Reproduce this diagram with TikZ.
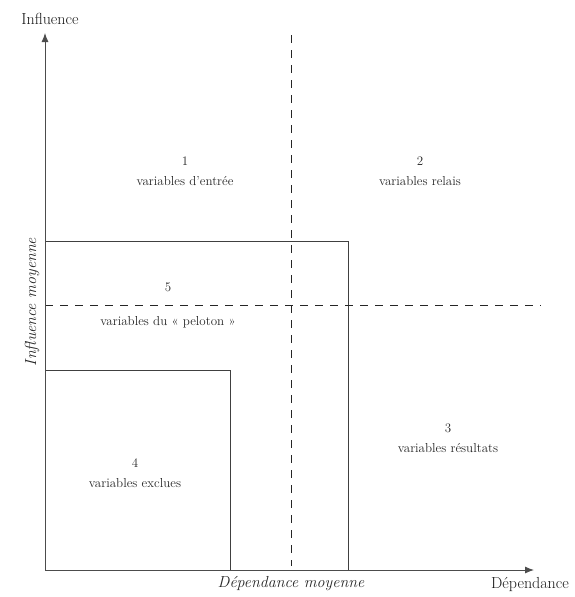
\documentclass[tikz,border=0pt]{standalone}
\usetikzlibrary{arrows.meta}
\begin{document}
\begin{tikzpicture}[x=1pt,y=-1pt,
  ln/.style={draw=black!75, line width=0.9pt},
  dsh/.style={draw=black!85, line width=1pt, dash pattern=on 8pt off 7pt},
  axis/.style={draw=black!70, line width=0.9pt, -{Latex[length=9pt,width=7pt]}},
  lbl/.style={font=\fontsize{13}{15}\selectfont, align=center, text=black!85},
  axl/.style={font=\fontsize{16}{18}\selectfont, text=black!90},
  axi/.style={font=\fontsize{16}{18}\selectfont\itshape, text=black!85}]
\useasboundingbox (0,0) rectangle (575,597);
\coordinate (O) at (45,570);
\coordinate (ytop) at (45,33);
\coordinate (xend) at (534,570);
\coordinate (vt) at (291,35);
\coordinate (vb) at (291,566);
\coordinate (hl) at (45,305);
\coordinate (hr) at (541,305);
% boxes
\draw[ln] (45,241) -- (348,241) -- (348,570);
\draw[ln] (45,370) -- (230,370) -- (230,570);
% dashed lines
\draw[dsh] (vt) -- (vb);
\draw[dsh] (hl) -- (hr);
% axes
\draw[axis] (O) -- (ytop);
\draw[axis] (O) -- (xend);
% axis labels
\node[axl] (yl) at (50,19) {Influence};
\node[axl] (xl) at (530,584) {Dépendance};
\node[axi] (xm) at (291,584) {Dépendance moyenne};
\node[axi, rotate=90] (ym) at (32,302) {Influence moyenne};
% region labels
\node[lbl] (r1) at (185,171) {1\\[5pt]variables d’entrée};
\node[lbl] (r2) at (420,171) {2\\[5pt]variables relais};
\node[lbl] (r5a) at (168,287) {5};
\node[lbl] (r5b) at (168,322) {variables du « peloton »};
\node[lbl] (r3) at (448,438) {3\\[5pt]variables résultats};
\node[lbl] (r4) at (135,473) {4\\[5pt]variables exclues};
\end{tikzpicture}
\end{document}
